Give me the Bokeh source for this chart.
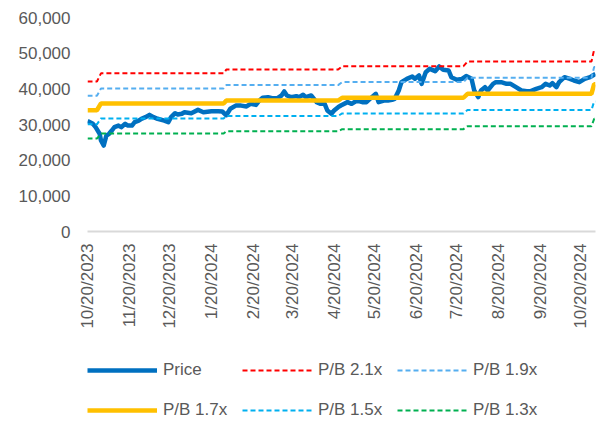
import math
import pandas as pd
from bokeh.plotting import figure
from bokeh.layouts import column
from bokeh.models import (Range1d, FixedTicker, NumeralTickFormatter,
                          CustomJSTickFormatter, Legend, LegendItem, ColumnDataSource)
from bokeh.embed import file_html
from bokeh.resources import INLINE

# ---------------- data ----------------
price_dates = [
    "2023-10-20", "2023-10-24", "2023-10-26", "2023-10-29", "2023-10-30", "2023-11-01",
    "2023-11-03", "2023-11-05", "2023-11-07", "2023-11-09", "2023-11-12", "2023-11-14",
    "2023-11-17", "2023-11-19", "2023-11-22", "2023-11-24", "2023-11-27", "2023-11-29",
    "2023-12-02", "2023-12-05", "2023-12-08", "2023-12-11", "2023-12-16", "2023-12-19",
    "2023-12-21", "2023-12-24", "2023-12-26", "2023-12-29", "2023-12-31", "2024-01-05",
    "2024-01-10", "2024-01-14", "2024-01-20", "2024-01-25", "2024-01-28", "2024-01-31",
    "2024-02-03", "2024-02-07", "2024-02-11", "2024-02-15", "2024-02-18", "2024-02-22",
    "2024-02-24", "2024-02-27", "2024-03-02", "2024-03-05", "2024-03-09", "2024-03-12",
    "2024-03-14", "2024-03-16", "2024-03-19", "2024-03-23", "2024-03-25", "2024-03-28",
    "2024-03-30", "2024-04-03", "2024-04-07", "2024-04-10", "2024-04-13", "2024-04-15",
    "2024-04-18", "2024-04-20", "2024-04-23", "2024-04-25", "2024-04-30", "2024-05-03",
    "2024-05-07", "2024-05-11", "2024-05-14", "2024-05-18", "2024-05-21", "2024-05-23",
    "2024-05-27", "2024-05-30", "2024-06-02", "2024-06-04", "2024-06-07", "2024-06-09",
    "2024-06-13", "2024-06-17", "2024-06-19", "2024-06-22", "2024-06-24", "2024-06-27",
    "2024-06-30", "2024-07-04", "2024-07-07", "2024-07-10", "2024-07-14", "2024-07-16",
    "2024-07-20", "2024-07-24", "2024-07-27", "2024-07-31", "2024-08-02", "2024-08-05",
    "2024-08-07", "2024-08-10", "2024-08-12", "2024-08-16", "2024-08-18", "2024-08-22",
    "2024-08-26", "2024-08-29", "2024-09-02", "2024-09-06", "2024-09-10", "2024-09-13",
    "2024-09-17", "2024-09-21", "2024-09-24", "2024-09-27", "2024-09-29", "2024-10-02",
    "2024-10-04", "2024-10-08", "2024-10-12", "2024-10-15", "2024-10-19", "2024-10-23",
    "2024-10-27", "2024-10-31",
]
price_values = [
    31000, 30200, 29250, 27400, 25500, 24100,
    26900, 27400, 28300, 29250, 29700, 29250,
    30200, 29700, 29700, 30650, 31100, 31600,
    32050, 32700, 32050, 31600, 31100, 30650,
    32050, 33170, 32800, 33000, 33450, 33170,
    34100, 33450, 33730, 33730, 33650, 32600,
    34400, 35300, 35300, 35050, 35800, 35500,
    36500, 37480, 37670, 37390, 37390, 38130,
    39260, 38130, 37670, 37950, 37670, 38320,
    37670, 38130, 36270, 35800, 35800, 33930,
    33000, 33930, 34860, 35330, 36270, 35800,
    36730, 36270, 36270, 37670, 38600, 36270,
    36730, 36730, 36930, 37200, 39540, 41870,
    42800, 43460, 42800, 43740, 41400, 44670,
    45610, 44950, 46270, 45340, 45150, 43270,
    42540, 42800, 43600, 42800, 39540, 37670,
    39540, 40470, 39540, 41400, 41870, 41870,
    41400, 41400, 40470, 39540, 39350, 39350,
    40000, 40470, 41400, 40940, 41590, 40470,
    41870, 43270, 42800, 42340, 41870, 42800,
    43270, 44220,
]

band_dates = ["2023-10-20", "2023-10-27", "2023-10-30", "2024-01-29", "2024-01-31",
              "2024-04-23", "2024-04-26", "2024-07-25", "2024-07-28", "2024-10-28",
              "2024-10-30", "2024-10-31"]
pb_21 = [42050, 42050, 44350, 44350, 45400, 45400, 46350, 46350, 47650, 47650, 51000, 51000]
pb_19 = [38050, 38050, 40100, 40100, 41050, 41050, 41900, 41900, 43100, 43100, 46150, 46150]
pb_17 = [34000, 34000, 35900, 35900, 36700, 36700, 37500, 37500, 38600, 38600, 41300, 41300]
pb_15 = [30050, 30050, 31700, 31700, 32400, 32400, 33100, 33100, 34050, 34050, 36450, 36450]
pb_13 = [26050, 26050, 27450, 27450, 28100, 28100, 28700, 28700, 29500, 29500, 31600, 31600]

tick_dates = ["2023-10-20", "2023-11-20", "2023-12-20", "2024-01-20", "2024-02-20",
              "2024-03-20", "2024-04-20", "2024-05-20", "2024-06-20", "2024-07-20",
              "2024-08-20", "2024-09-20", "2024-10-20"]
y_ticks = [0, 10000, 20000, 30000, 40000, 50000, 60000]

series_labels = ["Price", "P/B 2.1x", "P/B 1.9x", "P/B 1.7x", "P/B 1.5x", "P/B 1.3x"]
band_cols = ["b21", "b19", "b17", "b15", "b13"]

# ---------------- styles ----------------
FONT = "Liberation Sans"
TXT = "#595959"
styles = [
    dict(line_color="#0070C0", line_width=4.5),
    dict(line_color="#FF0000", line_width=2, line_dash="5 3"),
    dict(line_color="#55AEF0", line_width=2, line_dash="5 3"),
    dict(line_color="#FFC000", line_width=4.5),
    dict(line_color="#00B0F0", line_width=2, line_dash="5 3"),
    dict(line_color="#00B050", line_width=2, line_dash="5 3"),
]


def ms(d):
    return (pd.Timestamp(d) - pd.Timestamp("1970-01-01")) // pd.Timedelta(milliseconds=1)


price_src = ColumnDataSource(dict(x=pd.to_datetime(price_dates), y=price_values))
band_src = ColumnDataSource(dict(x=pd.to_datetime(band_dates), b21=pb_21, b19=pb_19,
                                 b17=pb_17, b15=pb_15, b13=pb_13))

# ---------------- main chart ----------------
p = figure(width=598, height=340, x_axis_type="datetime",
           output_backend="svg", toolbar_location=None,
           min_border_left=87, min_border_right=3, min_border_top=17, min_border_bottom=109,
           x_range=Range1d(pd.Timestamp(price_dates[0]), pd.Timestamp(price_dates[-1])),
           y_range=Range1d(0, 60000))
p.outline_line_color = None
p.xgrid.visible = False
p.ygrid.visible = False
p.background_fill_color = "white"

p.line("x", "y", source=price_src, line_join="round", **styles[0])
for col, st in zip(band_cols, styles[1:]):
    p.line("x", col, source=band_src, **st)

xa = p.xaxis[0]
xa.ticker = FixedTicker(ticks=[ms(d) for d in tick_dates])
xa.formatter = CustomJSTickFormatter(code="""
const d = new Date(tick);
return (d.getUTCMonth() + 1) + "/" + d.getUTCDate() + "/" + d.getUTCFullYear();
""")
xa.major_label_orientation = math.pi / 2
xa.axis_line_color = "#D9D9D9"
xa.axis_line_width = 2
xa.major_tick_line_color = None
xa.minor_tick_line_color = None
xa.major_tick_in = 0
xa.major_tick_out = 0
xa.major_label_standoff = 12
xa.major_label_text_font = FONT
xa.major_label_text_font_size = "17px"
xa.major_label_text_color = TXT

ya = p.yaxis[0]
ya.ticker = FixedTicker(ticks=y_ticks)
ya.formatter = NumeralTickFormatter(format="0,0")
ya.axis_line_color = None
ya.major_tick_line_color = None
ya.minor_tick_line_color = None
ya.major_tick_in = 0
ya.major_tick_out = 0
ya.major_label_standoff = 17
ya.major_label_text_font = FONT
ya.major_label_text_font_size = "17px"
ya.major_label_text_color = TXT

# ---------------- legend strip ----------------
# same series drawn in a strip whose ranges keep them out of view; only the legend shows
lg = figure(width=598, height=83, output_backend="svg", toolbar_location=None,
            x_axis_location=None, y_axis_location=None,
            min_border_left=0, min_border_right=0, min_border_top=0, min_border_bottom=0,
            x_range=Range1d(0, 1), y_range=Range1d(0, 1))
lg.outline_line_color = None
lg.xgrid.visible = False
lg.ygrid.visible = False
legend_renderers = [lg.line("x", "y", source=price_src, **styles[0])]
for col, st in zip(band_cols, styles[1:]):
    legend_renderers.append(lg.line("x", col, source=band_src, **st))

legend = Legend(items=[LegendItem(label=lab, renderers=[r]) for lab, r in
                       zip(series_labels, legend_renderers)],
                location=(0, 0), orientation="horizontal", ncols=3,
                glyph_width=70, glyph_height=26, label_height=26, label_width=65,
                label_standoff=6, spacing=14, padding=0, margin=0,
                border_line_color=None, background_fill_alpha=0,
                label_text_font=FONT, label_text_font_size="17px",
                label_text_color=TXT)
lg.add_layout(legend, "center")

layout = column(p, lg, spacing=0)
open("out.html", "w").write(file_html(layout, INLINE))
